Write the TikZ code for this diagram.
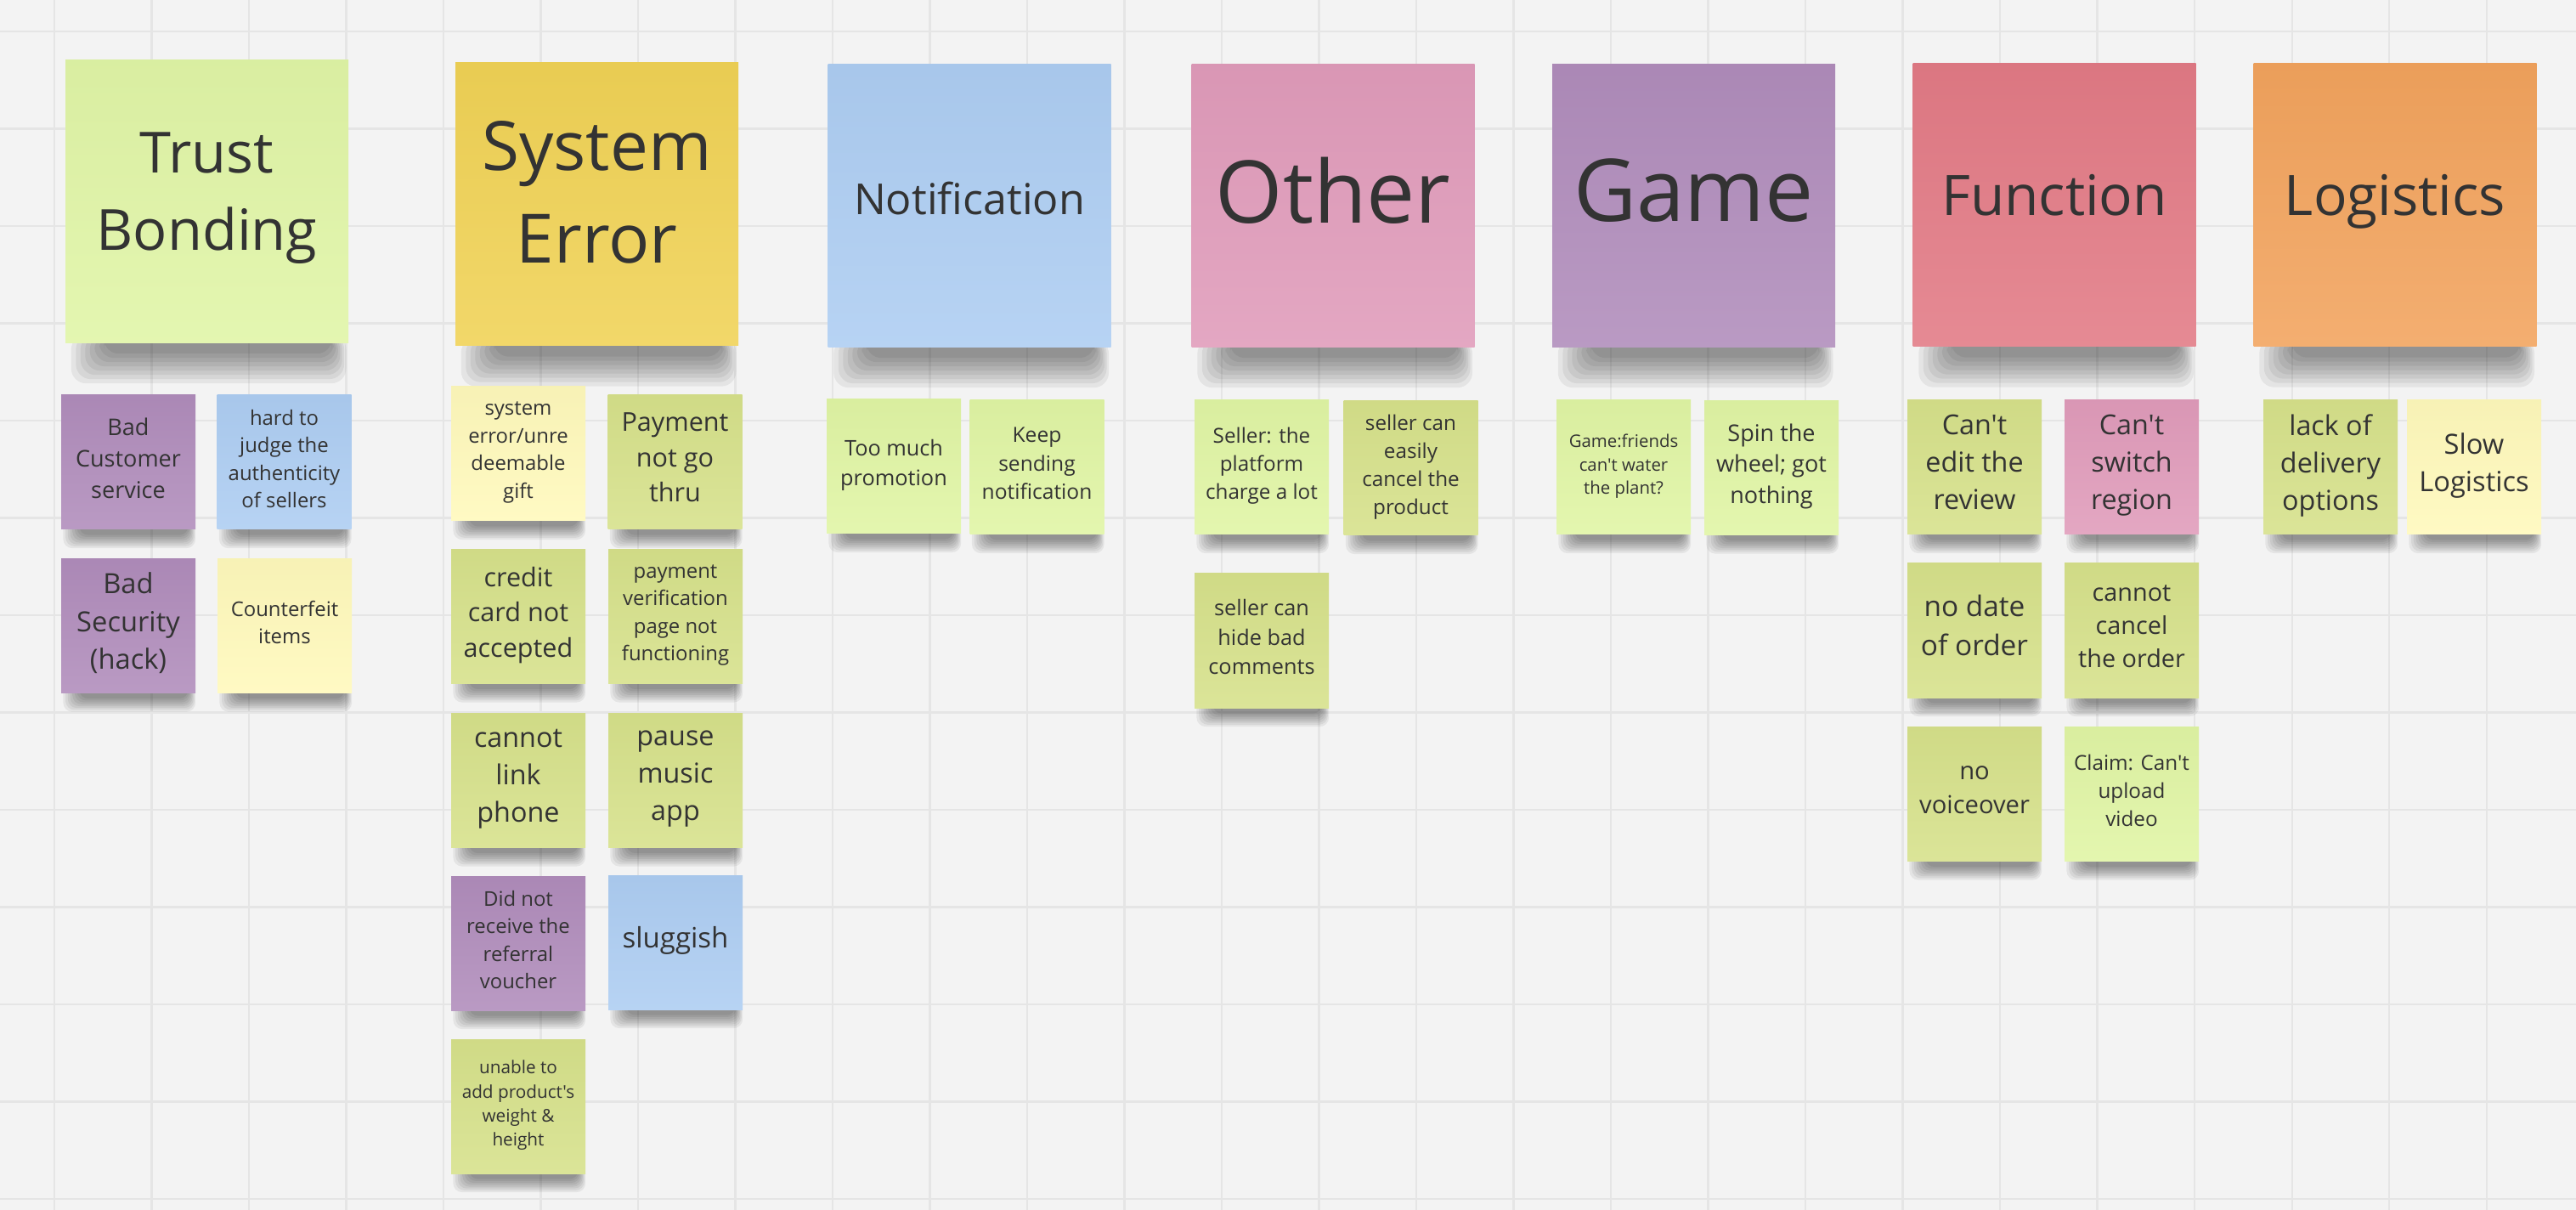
\documentclass[tikz,border=0pt]{standalone}
\usepackage{fontspec}
\setmainfont{Open Sans}[Ligatures=TeXOff]
\usetikzlibrary{backgrounds, calc}

\definecolor{board}{HTML}{F3F3F3}
\definecolor{gridline}{HTML}{E5E5E5}
\definecolor{ink}{HTML}{333333}
\definecolor{headLime}{HTML}{E0F5A6}
\definecolor{headGold}{HTML}{F0D255}
\definecolor{headCoral}{HTML}{E27A85}
\definecolor{headOrange}{HTML}{F2A35D}
\definecolor{noteLime}{HTML}{E0F5A4}
\definecolor{noteOlive}{HTML}{D6E18A}
\definecolor{noteCream}{HTML}{FFF9BB}
\definecolor{noteLilac}{HTML}{B08CBB}
\definecolor{noteSky}{HTML}{ADCDF2}
\definecolor{noteRose}{HTML}{E09BBA}

\newcommand\fsz[1]{\fontsize{#1}{\fpeval{1.36*#1}}\selectfont}

\begin{document}
\begin{tikzpicture}[y=-1cm]
        % Setup the style for the notes
        \tikzset{note style/.style={rectangle,
                                    inner sep=0pt,
                                    minimum width=1.58cm,
                                    minimum height=1.58cm,
                                    align=center,
                                    text=ink,
                                    execute at end node={\vrule width 0pt height 0pt depth 0.36em}},
                 head style/.style={note style,
                                    minimum width=3.33cm,
                                    minimum height=3.33cm},
                 paper/.style={top color=#1!97!black, bottom color=#1!88!white},
                 fs/.style={font=\fsz{#1}}}
        \useasboundingbox (0,0) rectangle (30.32,14.24);

        % Draw the headers
        \node[head style, paper=headLime, fs=19]    at (2.435,2.37)  (trust) {Trust\\Bonding};
        \node[head style, paper=headGold, fs=22.8]  at (7.025,2.405) (syserr) {System\\Error};
        \node[head style, paper=noteSky, fs=14.3]   at (11.41,2.42)  (notif) {Notification};
        \node[head style, paper=noteRose, fs=29]    at (15.69,2.42)  (other) {Other};
        \node[head style, paper=noteLilac, fs=29]   at (19.935,2.42) (game) {Game};
        \node[head style, paper=headCoral, fs=18.7] at (24.18,2.415) (func) {Function};
        \node[head style, paper=headOrange, fs=18.7] at (28.19,2.415) (logis) {Logistics};

        % Draw the notes under Trust Bonding
        \node[note style, paper=noteLilac, fs=7.7] at (1.51,5.44)  (badcust) {Bad\\Customer\\service};
        \node[note style, paper=noteSky, fs=6.8]   at (3.345,5.44) (judge) {hard to\\judge the\\authenticity\\of sellers};
        \node[note style, paper=noteLilac, fs=9.3] at (1.51,7.365) (badsec) {Bad\\Security\\(hack)};
        \node[note style, paper=noteCream, fs=6.8] at (3.35,7.365) (fake) {Counterfeit\\items};

        % Draw the notes under System Error
        \node[note style, paper=noteCream, fs=6.8] at (6.10,5.34)   (unre) {system\\error/unre\\deemable\\gift};
        \node[note style, paper=noteOlive, fs=8.7] at (7.945,5.44)  (paythru) {Payment\\not go\\thru};
        \node[note style, paper=noteOlive, fs=8.7] at (6.10,7.255)  (credit) {credit\\card not\\accepted};
        \node[note style, paper=noteOlive, fs=6.8] at (7.95,7.255)  (payverif) {payment\\verification\\page not\\functioning};
        \node[note style, paper=noteOlive, fs=9.2] at (6.10,9.185)  (linkphone) {cannot\\link\\phone};
        \node[note style, paper=noteOlive, fs=9.2] at (7.95,9.185)  (music) {pause\\music\\app};
        \node[note style, paper=noteLilac, fs=6.8] at (6.10,11.10)  (referral) {Did not\\receive the\\referral\\voucher};
        \node[note style, paper=noteSky, fs=9.4]   at (7.95,11.09)  (sluggish) {sluggish};
        \node[note style, paper=noteOlive, fs=5.9] at (6.10,13.02)  (weight) {unable to\\add product's\\weight \&\\height};

        % Draw the notes under Notification and Other
        \node[note style, paper=noteLime, fs=7.2]  at (10.52,5.49)  (promo) {Too much\\promotion};
        \node[note style, paper=noteLime, fs=7]    at (12.205,5.50) (keepnotif) {Keep\\sending\\notification};
        \node[note style, paper=noteLime, fs=6.9]  at (14.85,5.50)  (charge) {Seller: the\\platform\\charge a lot};
        \node[note style, paper=noteOlive, fs=6.9] at (16.605,5.51) (cancelprod) {seller can\\easily\\cancel the\\product};
        \node[note style, paper=noteOlive, fs=7.2] at (14.85,7.54)  (hidecom) {seller can\\hide bad\\comments};

        % Draw the notes under Game
        \node[note style, paper=noteLime, fs=5.8]  at (19.11,5.50)  (water) {Game:friends\\can't water\\the plant?};
        \node[note style, paper=noteLime, fs=7.7]  at (20.85,5.505) (spin) {Spin the\\wheel; got\\nothing};

        % Draw the notes under Function
        \node[note style, paper=noteOlive, fs=9.2] at (23.24,5.50)  (editrev) {Can't\\edit the\\review};
        \node[note style, paper=noteRose, fs=9.2]  at (25.09,5.50)  (region) {Can't\\switch\\region};
        \node[note style, paper=noteOlive, fs=9.5] at (23.24,7.42)  (nodate) {no date\\of order};
        \node[note style, paper=noteOlive, fs=8.2] at (25.09,7.42)  (cancelord) {cannot\\cancel\\the order};
        \node[note style, paper=noteOlive, fs=8.3] at (23.24,9.345) (voice) {no\\voiceover};
        \node[note style, paper=noteLime, fs=6.9]  at (25.09,9.345) (upload) {Claim: Can't\\upload\\video};

        % Draw the notes under Logistics
        \node[note style, paper=noteOlive, fs=9.2] at (27.43,5.50)  (delivery) {lack of\\delivery\\options};
        \node[note style, paper=noteCream, fs=9.3] at (29.12,5.50)  (slowlog) {Slow\\Logistics};

        % Board, grid and shadows behind the notes
        \begin{scope}[on background layer]
            \fill[board] (0,0) rectangle (30.32,14.24);
            \foreach \gx in {0,...,25}
                \draw[gridline, line width=0.6pt] ({0.64+1.145*\gx},0) -- ++(0,14.24);
            \foreach \gy in {0,...,12}
                \draw[gridline, line width=0.6pt] (0,{0.37+1.145*\gy}) -- ++(30.32,0);
            \foreach \nm in {trust,syserr,notif,other,game,func,logis}
                \foreach \kk in {0,...,7} {
                    \pgfmathsetmacro\shl{0.46-0.055*\kk}
                    \pgfmathsetmacro\shr{0.20-0.024*\kk}
                    \pgfmathsetmacro\shd{0.12+0.05*\kk}
                    \fill[black, opacity=0.06, rounded corners=5pt]
                        ($(\nm.south west)+(\shl cm,3pt)$)
                        rectangle ($(\nm.south east)+(-\shr cm,-\shd cm)$);
                }
            \foreach \nm in {badcust,judge,badsec,fake,unre,paythru,credit,payverif,linkphone,music,
                             referral,sluggish,weight,promo,keepnotif,charge,cancelprod,hidecom,
                             water,spin,editrev,region,nodate,cancelord,voice,upload,delivery,slowlog}
                \foreach \kk in {0,...,7} {
                    \pgfmathsetmacro\shl{0.22-0.027*\kk}
                    \pgfmathsetmacro\shr{0.09-0.012*\kk}
                    \pgfmathsetmacro\shd{0.06+0.022*\kk}
                    \fill[black, opacity=0.06, rounded corners=3pt]
                        ($(\nm.south west)+(\shl cm,3pt)$)
                        rectangle ($(\nm.south east)+(-\shr cm,-\shd cm)$);
                }
        \end{scope}
\end{tikzpicture}
\end{document}
